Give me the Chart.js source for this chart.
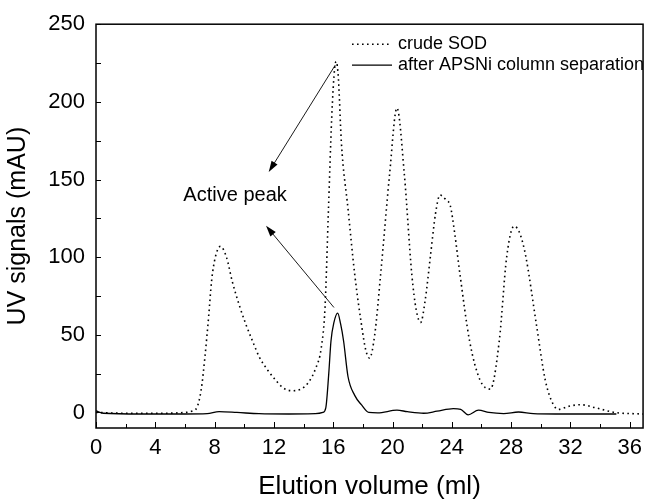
<!DOCTYPE html>
<html>
<head>
<meta charset="utf-8">
<script src="https://cdn.jsdelivr.net/npm/chart.js@4"></script>
<style>
  html, body { margin: 0; padding: 0; background: #fff; }
</style>
</head>
<body>
<canvas id="chart" width="649" height="504"></canvas>
<script>
// ------------------ DATA ------------------
const crudeVolume = [0, 2, 4, 6, 6.5, 6.8, 7.1, 7.35, 7.6, 7.8, 8.05, 8.4, 8.8, 9.2, 9.7, 10.1, 10.6, 11.0, 11.6, 12.1, 12.6, 13.2, 13.8, 14.3, 14.8, 15.2, 15.45, 15.67, 15.9, 16.1, 16.2, 16.35, 16.55, 17.0, 17.45, 17.9, 18.2, 18.45, 18.8, 19.2, 19.8, 20.3, 20.8, 21.3, 21.6, 21.9, 22.2, 22.55, 22.9, 23.2, 23.6, 23.9, 24.2, 24.55, 25.2, 25.9, 26.6, 27.2, 27.7, 28.2, 28.6, 29.0, 29.7, 30.3, 30.8, 31.2, 31.9, 32.7, 33.7, 35.0, 36.9];
const crudeSignal = [0, -0.5, -0.5, 0, 1, 3, 15, 36, 62, 85, 100, 107, 100, 84, 68, 57, 45, 36, 27, 21, 16, 14, 15, 19, 28, 42, 68, 128, 190, 222, 226, 215, 174, 131, 89, 57, 40, 35, 50, 89, 153, 196, 153, 89, 66, 58, 72, 100, 128, 140, 137, 133, 115, 89, 46, 21, 15, 46, 100, 120, 115, 100, 57, 21, 6, 2, 4, 5, 3, 0, -1];

const afterVolume = [0, 0.5, 3, 6, 7.5, 8.3, 9.5, 11, 13, 14.8, 15.3, 15.5, 15.7, 15.85, 16.05, 16.3, 16.5, 16.7, 17.0, 17.45, 17.9, 18.4, 19.0, 20.3, 21.0, 22.1, 23.0, 24.1, 24.6, 25.1, 25.8, 26.5, 27.5, 28.5, 29.5, 31, 35.1];
const afterSignal = [1, -0.5, -1, -1, -0.8, 0.5, 0, -0.8, -1, -0.8, 0, 3, 25, 46, 58, 64, 57, 46, 23, 11, 5, 0, -0.3, 1.5, 0.5, -0.5, 0.8, 2.5, 2, -1.5, 1.5, 0, -0.7, 0.3, -0.8, -1, -1];

const xTicks = [0, 4, 8, 12, 16, 20, 24, 28, 32, 36];
const yTicks = [0, 50, 100, 150, 200, 250];

const seriesLabels = ['crude SOD', 'after APSNi column separation'];
const annotationText = 'Active peak';

const FONT = "'Liberation Sans', Arial, sans-serif";

// ------------------ DECORATION ------------------
function drawArrow(ctx, x1, y1, x2, y2) {
    const ang = Math.atan2(y2 - y1, x2 - x1);
    const head = 11, half = 3.5;
    ctx.beginPath();
    ctx.moveTo(x1, y1);
    ctx.lineTo(x2 - head * 0.7 * Math.cos(ang), y2 - head * 0.7 * Math.sin(ang));
    ctx.stroke();
    ctx.beginPath();
    ctx.moveTo(x2, y2);
    ctx.lineTo(x2 - head * Math.cos(ang) + half * Math.sin(ang), y2 - head * Math.sin(ang) - half * Math.cos(ang));
    ctx.lineTo(x2 - head * Math.cos(ang) - half * Math.sin(ang), y2 - head * Math.sin(ang) + half * Math.cos(ang));
    ctx.closePath();
    ctx.fill();
}

const decorPlugin = {
    id: 'decor',
    afterDatasetsDraw(chart) {
        const { ctx, chartArea: a, scales: { x, y } } = chart;
        ctx.save();
        ctx.strokeStyle = '#000';
        ctx.fillStyle = '#000';

        // frame
        ctx.lineWidth = 1.5;
        ctx.strokeRect(a.left, a.top, a.right - a.left, a.bottom - a.top);

        // inward ticks
        ctx.lineWidth = 1;
        ctx.beginPath();
        for (let v = 0; v <= 36; v += 2) {
            const px = Math.round(x.getPixelForValue(v)) + 0.5;
            const len = v % 4 === 0 ? 6 : 4;
            ctx.moveTo(px, a.bottom);
            ctx.lineTo(px, a.bottom - len);
        }
        for (let v = 0; v <= 250; v += 25) {
            const py = Math.round(y.getPixelForValue(v)) + 0.5;
            ctx.moveTo(a.left, py);
            ctx.lineTo(a.left + 5, py);
        }
        ctx.stroke();

        // legend
        const lx0 = a.left + 256, lx1 = a.left + 296;
        const rows = [a.top + 20, a.top + 41];
        ctx.font = '18px ' + FONT;
        ctx.textBaseline = 'middle';
        chart.data.datasets.forEach((ds, i) => {
            ctx.lineWidth = ds.borderWidth;
            ctx.setLineDash(ds.borderDash || []);
            ctx.beginPath();
            ctx.moveTo(lx0, rows[i]);
            ctx.lineTo(lx1, rows[i]);
            ctx.stroke();
            ctx.setLineDash([]);
            ctx.fillText(seriesLabels[i], lx1 + 6, rows[i]);
        });

        // annotation
        ctx.lineWidth = 0.9;
        drawArrow(ctx, x.getPixelForValue(16.14), y.getPixelForValue(223.7),
                       x.getPixelForValue(11.65), y.getPixelForValue(154.8));
        drawArrow(ctx, x.getPixelForValue(16.05), y.getPixelForValue(67.6),
                       x.getPixelForValue(11.47), y.getPixelForValue(120.2));
        ctx.font = '20px ' + FONT;
        ctx.textAlign = 'center';
        ctx.fillText(annotationText, x.getPixelForValue(9.38), y.getPixelForValue(140));
        ctx.restore();
    }
};

// ------------------ CHART ------------------
const ctx = document.getElementById('chart').getContext('2d');
new Chart(ctx, {
    type: 'line',
    data: {
        datasets: [{
            label: seriesLabels[0],
            data: crudeVolume.map((v, i) => ({ x: v, y: crudeSignal[i] })),
            borderColor: '#000',
            borderWidth: 1.6,
            borderDash: [1.6, 3.4],
            pointRadius: 0,
            cubicInterpolationMode: 'monotone',
            fill: false
        }, {
            label: seriesLabels[1],
            data: afterVolume.map((v, i) => ({ x: v, y: afterSignal[i] })),
            borderColor: '#000',
            borderWidth: 1.3,
            pointRadius: 0,
            cubicInterpolationMode: 'monotone',
            fill: false
        }]
    },
    options: {
        responsive: false,
        animation: false,
        layout: { padding: { left: 0, right: 2, top: 21, bottom: 0 } },
        scales: {
            x: {
                type: 'linear',
                min: 0,
                max: 36.9,
                afterBuildTicks: s => { s.ticks = xTicks.map(v => ({ value: v })); },
                afterFit: s => { s.height = 76; },
                grid: { display: false, drawTicks: false },
                border: { display: false },
                ticks: { autoSkip: false, maxRotation: 0, padding: 7, color: '#000', font: { family: FONT, size: 22 } },
                title: { display: true, text: 'Elution volume (ml)', color: '#000', padding: { bottom: 2 }, font: { family: FONT, size: 26 } }
            },
            y: {
                min: -10,
                max: 250,
                afterBuildTicks: s => { s.ticks = yTicks.map(v => ({ value: v })); },
                afterFit: s => { s.width = 96; },
                grid: { display: false, drawTicks: false },
                border: { display: false },
                ticks: { autoSkip: false, padding: 11, color: '#000', font: { family: FONT, size: 22 } },
                title: { display: true, text: 'UV signals (mAU)', color: '#000', padding: { top: 3 }, font: { family: FONT, size: 25 } }
            }
        },
        plugins: {
            legend: { display: false },
            tooltip: { enabled: false }
        }
    },
    plugins: [decorPlugin]
});
</script>
</body>
</html>
